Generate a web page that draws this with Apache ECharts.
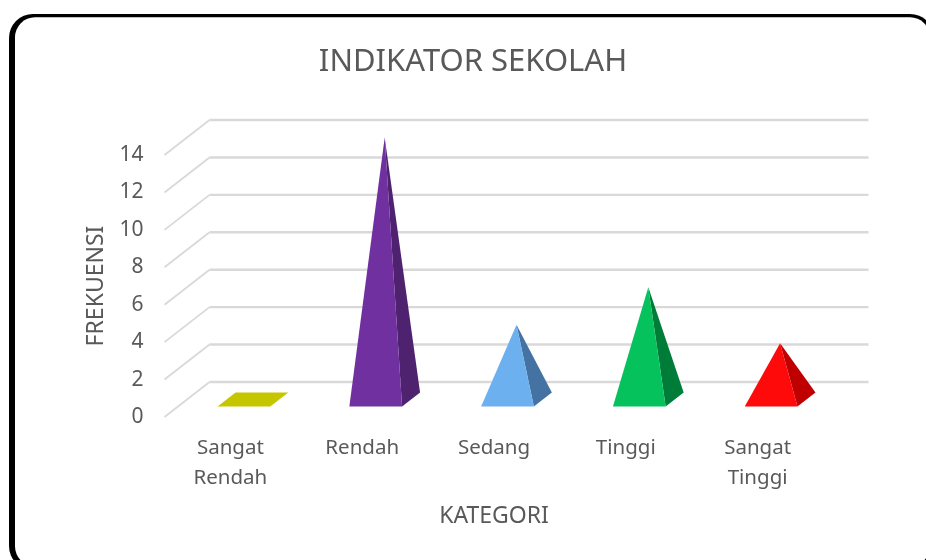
<!DOCTYPE html>
<html>
<head>
<meta charset="utf-8">
<style>html,body{margin:0;padding:0;background:#fff}#c{width:926px;height:560px}</style>
<script src="https://cdn.jsdelivr.net/npm/echarts@6/dist/echarts.min.js"></script>
</head>
<body>
<div id="c"></div>
<script>
const categories = ['Sangat\nRendah', 'Rendah', 'Sedang', 'Tinggi', 'Sangat\nTinggi'];
const frequencies = [0, 14, 4, 6, 3];
const yTicks = [0, 2, 4, 6, 8, 10, 12, 14];
const faceColors = ['#C6C600', '#7030A0', '#6CB0F0', '#06C25C', '#FF0A0A'];
const sideColors = ['#A0A000', '#4F2270', '#4473A3', '#007C39', '#C00000'];

const FONT = '"Noto Sans", sans-serif';
const TEXT = '#595959';
// oblique projection of the chart's depth axis
const DEPTH_X = 45, DEPTH_Y = -35;
const HALF_BAR = 0.2, HALF_DEPTH = 0.2;

const project = (p, d) => [p[0] + DEPTH_X * d, p[1] + DEPTH_Y * d];

function renderGrid(params, api) {
  const band = api.size([1, 0])[0];
  const p = api.coord([0, api.value(1)]);
  const front = [p[0] - band / 2, p[1]];
  const back = project(front, 1);
  const end = [back[0] + band * categories.length, back[1]];
  return {
    type: 'group',
    children: [
      { type: 'polyline', shape: { points: [front, back] }, style: { stroke: '#D9D9D9', lineWidth: 1.8, fill: null } },
      { type: 'polyline', shape: { points: [back, end] }, style: { stroke: '#D9D9D9', lineWidth: 2.4, fill: null } }
    ]
  };
}

function renderPyramid(params, api) {
  const i = api.value(0), v = api.value(1);
  const band = api.size([1, 0])[0];
  const base = api.coord([i, 0]);
  const top = api.coord([i, v]);
  const hw = band * HALF_BAR;
  const fl = project([base[0] - hw, base[1]], 0.5 - HALF_DEPTH);
  const fr = project([base[0] + hw, base[1]], 0.5 - HALF_DEPTH);
  const br = project([base[0] + hw, base[1]], 0.5 + HALF_DEPTH);
  const bl = project([base[0] - hw, base[1]], 0.5 + HALF_DEPTH);
  const apex = project(top, 0.5);
  const face = faceColors[i], side = sideColors[i];
  if (v === 0) {
    return { type: 'polygon', shape: { points: [fl, fr, br, bl] }, style: { fill: face } };
  }
  return {
    type: 'group',
    children: [
      { type: 'polygon', shape: { points: [fr, br, apex] }, style: { fill: side } },
      { type: 'polygon', shape: { points: [fl, fr, apex] }, style: { fill: face } }
    ]
  };
}

const chart = echarts.init(document.getElementById('c'), null, { renderer: 'canvas' });
chart.setOption({
  backgroundColor: '#fff',
  animation: false,
  textStyle: { fontFamily: FONT },
  title: {
    text: 'INDIKATOR SEKOLAH',
    left: 468, top: 42, textAlign: 'center',
    textStyle: { fontFamily: FONT, fontSize: 31, fontWeight: 'normal', color: TEXT }
  },
  graphic: [
    { type: 'rect', z: -10, silent: true, shape: { x: 9, y: 14, width: 925, height: 556, r: 24 }, style: { fill: '#000' } },
    { type: 'rect', z: -9, silent: true, shape: { x: 15, y: 17.3, width: 915, height: 549, r: 20 }, style: { fill: '#fff' } }
  ],
  grid: { left: 164.5, right: 102.5, top: 155, bottom: 143, containLabel: false },
  xAxis: {
    type: 'category',
    data: categories,
    axisLine: { show: false },
    axisTick: { show: false },
    axisLabel: { color: TEXT, fontFamily: FONT, fontSize: 20.5, lineHeight: 30, margin: 16, interval: 0 },
    name: 'KATEGORI',
    nameLocation: 'middle',
    nameGap: 88,
    nameTextStyle: { color: TEXT, fontFamily: FONT, fontSize: 23 }
  },
  yAxis: {
    type: 'value',
    min: 0, max: 14, interval: 2,
    axisLine: { show: false },
    axisTick: { show: false },
    splitLine: { show: false },
    axisLabel: { color: TEXT, fontFamily: FONT, fontSize: 21, margin: 21, padding: [6, 0, 0, 0] },
    name: 'FREKUENSI',
    nameLocation: 'middle',
    nameGap: 57,
    nameTextStyle: { color: TEXT, fontFamily: FONT, fontSize: 23 }
  },
  series: [
    { type: 'custom', name: 'grid', z: 1, silent: true, renderItem: renderGrid, data: yTicks.map(v => [0, v]), encode: { x: 0, y: 1 } },
    { type: 'custom', name: 'Frekuensi', z: 2, renderItem: renderPyramid, data: frequencies.map((v, i) => [i, v]), encode: { x: 0, y: 1 } }
  ]
});
</script>
</body>
</html>
